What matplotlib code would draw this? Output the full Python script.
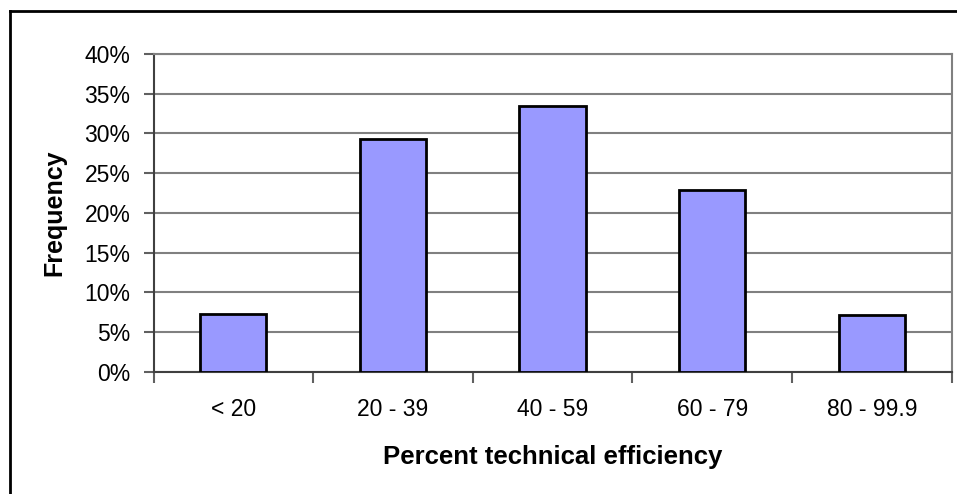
import matplotlib
matplotlib.use("Agg")
import matplotlib.pyplot as plt
from matplotlib.ticker import FuncFormatter
from matplotlib.lines import Line2D

categories = ["< 20", "20 - 39", "40 - 59", "60 - 79", "80 - 99.9"]
frequency = [7.3, 29.3, 33.5, 22.9, 7.1]  # percent of observations
y_ticks = [0, 5, 10, 15, 20, 25, 30, 35, 40]

plt.rcParams["font.family"] = ["Liberation Sans", "DejaVu Sans"]

W, H = 957, 494
fig = plt.figure(figsize=(W / 100, H / 100), dpi=100)

# Plot area in pixel coordinates
left, right, top, bottom = 153.5, 951.7, 54.0, 371.7
ax = fig.add_axes([left / W, 1 - bottom / H, (right - left) / W, (bottom - top) / H])

x = list(range(len(categories)))
ax.bar(x, frequency, width=0.415, color="#9999FF", edgecolor="black", linewidth=2, zorder=3)

ax.set_xlim(-0.5, len(categories) - 0.5)
ax.set_ylim(0, 40)
ax.set_yticks(y_ticks)
ax.yaxis.set_major_formatter(FuncFormatter(lambda v, p: f"{v:.0f}%"))
ax.grid(axis="y", color="#808080", linewidth=1.5, zorder=1)

ax.set_xticks(x)
ax.set_xticklabels(categories)
ax.set_xticks([i - 0.5 for i in range(len(categories) + 1)], minor=True)
ax.tick_params(axis="x", which="major", length=0, pad=19, labelsize=16.5)
ax.tick_params(axis="x", which="minor", length=8, width=1.5, color="#606060")
ax.tick_params(axis="y", length=7, width=1.5, color="#606060", labelsize=16.5, pad=9.5)

for side in ["left", "bottom"]:
    ax.spines[side].set_color("#404040")
    ax.spines[side].set_linewidth(1.5)
for side in ["top", "right"]:
    ax.spines[side].set_color("#808080")
    ax.spines[side].set_linewidth(1.5)

ylab = ax.set_ylabel("Frequency", fontsize=18, fontweight="bold")
ax.yaxis.set_label_coords((54 - left) / (right - left), 0.5)
ylab.set_ha("center")
ylab.set_va("center")

xlab = ax.set_xlabel("Percent technical efficiency", fontsize=18.5, fontweight="bold")
ax.xaxis.set_label_coords(0.5, (bottom - 457) / (bottom - top))
xlab.set_va("center")

# Chart frame
x0, y0 = 9.5 / W, 1 - 11.5 / H
fig.add_artist(Line2D([x0, x0], [y0, -0.1], transform=fig.transFigure, color="black", linewidth=2))
fig.add_artist(Line2D([x0, 1.1], [y0, y0], transform=fig.transFigure, color="black", linewidth=2))

fig.savefig("out.png", dpi=100)
